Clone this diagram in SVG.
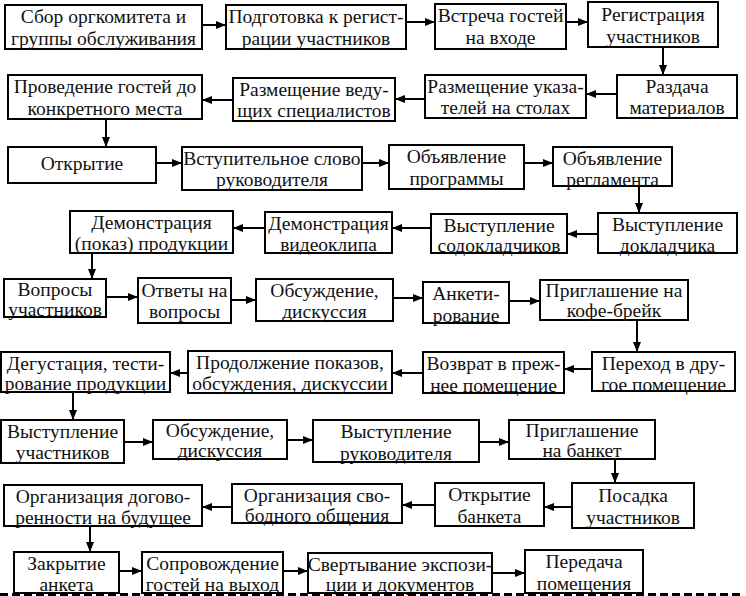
<svg xmlns="http://www.w3.org/2000/svg" width="746" height="596" viewBox="0 0 746 596">
<defs>
<marker id="ah" markerUnits="userSpaceOnUse" markerWidth="10" markerHeight="8" refX="10" refY="4" orient="auto"><path d="M0,0 L10,4 L0,8 z" fill="#000"/></marker>
<style>
.b{fill:#fff;stroke:#000;stroke-width:2}
.t text{font-size:19.5px;fill:#111;text-anchor:middle}
.c line{stroke:#000;stroke-width:2;marker-end:url(#ah)}
</style>
</defs>
<rect width="746" height="596" fill="#fff"/>
<g class="c" id="connectors">
<line x1="202" y1="25" x2="226" y2="25"/>
<line x1="406" y1="22" x2="435" y2="22"/>
<line x1="566" y1="22" x2="588" y2="22"/>
<line x1="663" y1="47" x2="663" y2="75"/>
<line x1="617" y1="94" x2="586" y2="94"/>
<line x1="425" y1="99" x2="395" y2="99"/>
<line x1="233" y1="100" x2="202" y2="100"/>
<line x1="106" y1="119" x2="106" y2="147"/>
<line x1="156" y1="163" x2="182" y2="163"/>
<line x1="362" y1="163" x2="389" y2="163"/>
<line x1="524" y1="163" x2="553" y2="163"/>
<line x1="639" y1="186" x2="639" y2="213"/>
<line x1="598" y1="234" x2="567" y2="234"/>
<line x1="431" y1="228" x2="392" y2="228"/>
<line x1="265" y1="228" x2="233" y2="228"/>
<line x1="92" y1="253" x2="92" y2="279"/>
<line x1="106" y1="297" x2="138" y2="297"/>
<line x1="231" y1="300" x2="256" y2="300"/>
<line x1="393" y1="298" x2="423" y2="298"/>
<line x1="509" y1="301" x2="540" y2="301"/>
<line x1="637" y1="320" x2="637" y2="352"/>
<line x1="592" y1="369" x2="564" y2="369"/>
<line x1="423" y1="373" x2="392" y2="373"/>
<line x1="188" y1="373" x2="170" y2="373"/>
<line x1="73" y1="392" x2="73" y2="420"/>
<line x1="124" y1="442" x2="153" y2="442"/>
<line x1="287" y1="440" x2="313" y2="440"/>
<line x1="479" y1="442" x2="509" y2="442"/>
<line x1="615" y1="459" x2="615" y2="483"/>
<line x1="572" y1="507" x2="544" y2="507"/>
<line x1="435" y1="505" x2="402" y2="505"/>
<line x1="232" y1="507" x2="202" y2="507"/>
<line x1="90" y1="526" x2="90" y2="552"/>
<line x1="119" y1="571" x2="142" y2="571"/>
<line x1="283" y1="571" x2="308" y2="571"/>
<line x1="492" y1="573" x2="525" y2="573"/>
</g>
<g class="t" font-family="Liberation Serif, Times New Roman, Times, DejaVu Serif, serif">
<g id="n1"><rect class="b" x="5" y="5" width="197" height="44"/><text x="103.5" y="23">Сбор оргкомитета и</text><text x="103.5" y="45">группы обслуживания</text></g>
<g id="n2"><rect class="b" x="226" y="5" width="180" height="44"/><text x="316" y="23">Подготовка к регист-</text><text x="316" y="45">рации участников</text></g>
<g id="n3"><rect class="b" x="435" y="4" width="131" height="45"/><text x="500.5" y="22">Встреча гостей</text><text x="500.5" y="44">на входе</text></g>
<g id="n4"><rect class="b" x="588" y="2" width="130" height="45"/><text x="653" y="21">Регистрация</text><text x="653" y="43">участников</text></g>
<g id="n5"><rect class="b" x="617" y="75" width="120" height="43"/><text x="677" y="93">Раздача</text><text x="677" y="114">материалов</text></g>
<g id="n6"><rect class="b" x="425" y="75" width="161" height="43"/><text x="505.5" y="93">Размещение указа-</text><text x="505.5" y="114">телей на столах</text></g>
<g id="n7"><rect class="b" x="233" y="78" width="162" height="43"/><text x="314" y="96">Размещение веду-</text><text x="314" y="117">щих специалистов</text></g>
<g id="n8"><rect class="b" x="8" y="75" width="194" height="44"/><text x="105" y="93">Проведение гостей до</text><text x="105" y="115">конкретного места</text></g>
<g id="n9"><rect class="b" x="8" y="147" width="148" height="36"/><text x="82" y="170">Открытие</text></g>
<g id="n10"><rect class="b" x="182" y="147" width="180" height="43"/><text x="272" y="165">Вступительное слово</text><text x="272" y="186">руководителя</text></g>
<g id="n11"><rect class="b" x="389" y="145" width="135" height="44"/><text x="456.5" y="163">Объявление</text><text x="456.5" y="185">программы</text></g>
<g id="n12"><rect class="b" x="553" y="147" width="119" height="39"/><text x="612.5" y="165">Объявление</text><text x="612.5" y="186">регламента</text></g>
<g id="n13"><rect class="b" x="598" y="213" width="139" height="40"/><text x="667.5" y="231">Выступление</text><text x="667.5" y="252">докладчика</text></g>
<g id="n14"><rect class="b" x="431" y="214" width="136" height="39"/><text x="499" y="232">Выступление</text><text x="499" y="252">содокладчиков</text></g>
<g id="n15"><rect class="b" x="265" y="212" width="127" height="41"/><text x="328.5" y="230">Демонстрация</text><text x="328.5" y="251">видеоклипа</text></g>
<g id="n16"><rect class="b" x="70" y="211" width="163" height="42"/><text x="151.5" y="229">Демонстрация</text><text x="151.5" y="250">(показ) продукции</text></g>
<g id="n17"><rect class="b" x="4" y="279" width="102" height="38"/><text x="55" y="296">Вопросы</text><text x="55" y="316">участников</text></g>
<g id="n18"><rect class="b" x="138" y="278" width="93" height="45"/><text x="184.5" y="297">Ответы на</text><text x="184.5" y="318">вопросы</text></g>
<g id="n19"><rect class="b" x="256" y="279" width="137" height="42"/><text x="324.5" y="297">Обсуждение,</text><text x="324.5" y="318">дискуссия</text></g>
<g id="n20"><rect class="b" x="423" y="282" width="86" height="41"/><text x="466" y="300">Анкети-</text><text x="466" y="322">рование</text></g>
<g id="n21"><rect class="b" x="540" y="280" width="148" height="40"/><text x="614" y="297">Приглашение на</text><text x="614" y="317">кофе-брейк</text></g>
<g id="n22"><rect class="b" x="592" y="352" width="143" height="39"/><text x="663.5" y="370">Переход в дру-</text><text x="663.5" y="391">гое помещение</text></g>
<g id="n23"><rect class="b" x="423" y="352" width="141" height="41"/><text x="493.5" y="370">Возврат в преж-</text><text x="493.5" y="392">нее помещение</text></g>
<g id="n24"><rect class="b" x="188" y="351" width="204" height="42"/><text x="290" y="369">Продолжение показов,</text><text x="290" y="390">обсуждения, дискуссии</text></g>
<g id="n25"><rect class="b" x="1" y="352" width="169" height="40"/><text x="85.5" y="370">Дегустация, тести-</text><text x="85.5" y="390">рование продукции</text></g>
<g id="n26"><rect class="b" x="1" y="420" width="123" height="43"/><text x="62.5" y="438">Выступление</text><text x="62.5" y="459">участников</text></g>
<g id="n27"><rect class="b" x="153" y="420" width="134" height="39"/><text x="220" y="437">Обсуждение,</text><text x="220" y="457">дискуссия</text></g>
<g id="n28"><rect class="b" x="313" y="420" width="166" height="42"/><text x="396" y="438">Выступление</text><text x="396" y="460">руководителя</text></g>
<g id="n29"><rect class="b" x="509" y="420" width="146" height="39"/><text x="582" y="437">Приглашение</text><text x="582" y="457">на банкет</text></g>
<g id="n30"><rect class="b" x="572" y="483" width="122" height="45"/><text x="633" y="502">Посадка</text><text x="633" y="524">участников</text></g>
<g id="n31"><rect class="b" x="435" y="483" width="109" height="43"/><text x="489.5" y="501">Открытие</text><text x="489.5" y="523">банкета</text></g>
<g id="n32"><rect class="b" x="232" y="484" width="170" height="39"/><text x="317" y="502">Организация сво-</text><text x="317" y="522">бодного общения</text></g>
<g id="n33"><rect class="b" x="4" y="485" width="198" height="41"/><text x="103" y="503">Организация догово-</text><text x="103" y="524">ренности на будущее</text></g>
<g id="n34"><rect class="b" x="14" y="552" width="105" height="41"/><text x="66.5" y="570">Закрытие</text><text x="66.5" y="591">анкета</text></g>
<g id="n35"><rect class="b" x="142" y="552" width="141" height="41"/><text x="212.5" y="570">Сопровождение</text><text x="212.5" y="591">гостей на выход</text></g>
<g id="n36"><rect class="b" x="308" y="553" width="184" height="40"/><text x="400" y="571">Свертывание экспози-</text><text x="400" y="591">ции и документов</text></g>
<g id="n37"><rect class="b" x="525" y="550" width="118" height="43"/><text x="584" y="568">Передача</text><text x="584" y="590">помещения</text></g>
</g>
<line x1="0" y1="594.5" x2="742" y2="594.5" stroke="#000" stroke-width="3" stroke-dasharray="8 4"/>
</svg>
